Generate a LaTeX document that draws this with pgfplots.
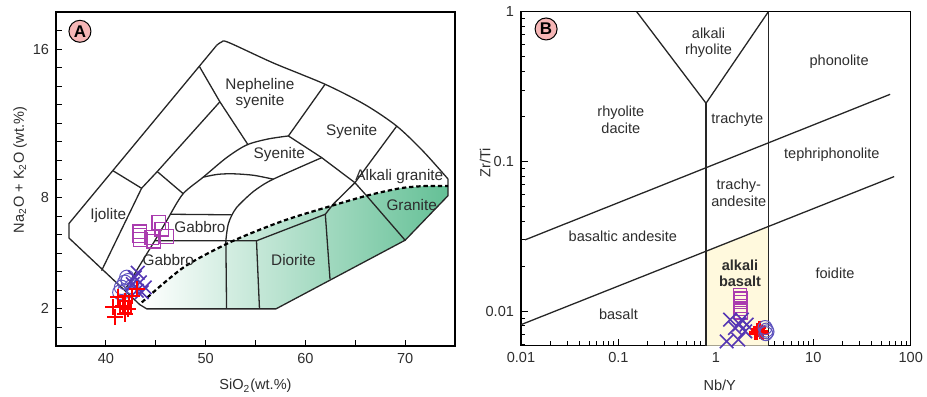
\documentclass[border=0pt]{standalone}
\usepackage{fontspec}
\setmainfont{Liberation Sans}
\usepackage{pgfplots}
\pgfplotsset{compat=1.18}
\definecolor{pur}{RGB}{170,60,175}
\definecolor{blu}{RGB}{85,55,180}
\definecolor{bluc}{RGB}{95,85,190}
\definecolor{grn}{RGB}{100,192,150}
\definecolor{pinkc}{RGB}{246,182,182}
\definecolor{ylw}{RGB}{255,249,221}
\definecolor{txt}{RGB}{45,45,45}
\tikzset{lab/.style={text=txt, align=center, inner sep=0pt},
  bnd/.style={line width=0.65bp, black!85}}
\begin{document}
\begin{tikzpicture}[font=\fontsize{7.3}{8.3}\selectfont]
\useasboundingbox (0,0) rectangle (463.5bp,198.5bp);
\pgfplotsset{
  every axis/.append style={scale only axis, axis line style={line width=0.75bp},
    tick style={line width=0.5bp, black}, tick align=inside, tick pos=left,
    /pgf/number format/assume math mode=true, clip=true,
    ticklabel style={text=txt}, label style={text=txt}}
}
% ---------------- Panel A ----------------
\begin{axis}[at={(28bp,25.5bp)}, anchor=south west, width=199.5bp, height=167bp,
  xmin=35, xmax=75, ymin=0, ymax=18,
  xtick={40,50,60,70}, minor xtick={45,55,65},
  ytick={2,8,16}, minor ytick={1,3,4,5,6,7,9,10,11,12,13,14,15,17},
  major tick length=2.8bp, minor tick length=2.8bp,
  xlabel={SiO\textsubscript{2}(wt.\%)},
  ylabel={Na\textsubscript{2}O + K\textsubscript{2}O (wt.\%)},
  xlabel style={at={(axis description cs:0.5,-0.12)}, anchor=center},
  ylabel style={at={(axis description cs:-0.09,0.527)}, anchor=center}]
% shaded field
\addplot[draw=none, left color=white, right color=grn] coordinates {
 (43.6,2.35) (46.1,3.52) (48.4,4.45) (52.77,5.67) (57.8,6.75) (62.6,7.55) (66.15,8.1) (69.5,8.5) (72,8.62) (74.3,8.62)
 (74.3,8.1) (70,5.7) (57.05,2.0) (44.1,2.0) (43.6,2.35)};
% outer boundary
\addplot[bnd, no marks, smooth] coordinates {(51.1,16.2) (51.6,16.38) (52.3,16.36) (56.8,15.25) (62,14.1) (66,13.0) (69.16,11.85) (71.8,10.5) (74.3,9.0)};
\addplot[bnd, no marks] coordinates {(74.3,9.0) (74.3,8.1) (70,5.7) (57.05,2.0) (44.1,2.0) (43.4,2.23) (36.3,5.82) (36.3,6.6) (51.1,16.2)};
% line A and B
\addplot[bnd, no marks] coordinates {(49.36,15.08) (51.43,13.16) (54.27,10.83)};
\addplot[bnd, no marks] coordinates {(51.43,13.16) (45.15,9.4) (43.58,8.5) (39.57,4.06)};
\addplot[bnd, no marks] coordinates {(40.73,9.44) (43.58,8.5)};
\addplot[bnd, no marks] coordinates {(45.15,9.4) (47.75,8.21)};
% ring outer curve R1
\addplot[bnd, no marks, smooth] coordinates {(58.3,11.32) (56.2,11.15) (54.1,10.83) (52.1,10.15) (49.76,9.1) (47.75,8.21) (46.42,7.05)};
\addplot[bnd, no marks] coordinates {(46.42,7.05) (44.9,5.67) (43.07,4.06) (41.87,2.99)};
\addplot[bnd, no marks] coordinates {(58.3,11.32) (61.97,14.1)};
% line 4 and line 5
\addplot[bnd, no marks] coordinates {(58.3,11.32) (61.64,10.15) (64.97,8.8) (66.15,8.09) (70,5.7)};
\addplot[bnd, no marks] coordinates {(69.16,11.85) (64.97,8.8) (62.8,7.65) (62.0,7.1) (62.47,3.6)};
% arch
\addplot[bnd, no marks, smooth] coordinates {(49.76,9.1) (51.2,9.25) (52.77,9.28) (54.8,9.2) (56.78,8.99)};
% inner curve R2
\addplot[bnd, no marks, smooth] coordinates {(61.64,10.15) (56.78,8.99) (55.1,8.45) (54.1,8.0) (53.1,7.46) (52.6,7.02) (52.27,6.57) (52.1,6.03) (52.03,5.67)};
\addplot[bnd, no marks] coordinates {(52.03,5.67) (52.1,2.0)};
% gabbro box and diorite
\addplot[bnd, no marks] coordinates {(46.42,7.1) (52.6,7.07)};
\addplot[bnd, no marks] coordinates {(44.9,5.67) (55.1,5.67) (62.0,7.1)};
\addplot[bnd, no marks] coordinates {(55.1,5.67) (55.4,2.0)};
% dashed curve
\addplot[line width=1.1bp, black, dash pattern=on 2.2bp off 1.4bp, smooth, no marks] coordinates {
 (43.6,2.35) (46.1,3.52) (48.4,4.45) (52.77,5.67) (57.8,6.75) (62.6,7.55) (66.15,8.1) (69.5,8.5) (72,8.62) (74.3,8.62)};
% labels
\begin{scope}[font=\fontsize{7.7}{8.4}\selectfont]
\node[lab] at (axis cs:55.45,13.61) {Nepheline\\syenite};
\node[lab] at (axis cs:64.64,11.55) {Syenite};
\node[lab] at (axis cs:57.38,10.3) {Syenite};
\node[lab] at (axis cs:69.42,9.11) {Alkali granite};
\node[lab] at (axis cs:70.66,7.6) {Granite};
\node[lab] at (axis cs:40.23,7.05) {Ijolite};
\node[lab] at (axis cs:49.43,6.42) {Gabbro};
\node[lab] at (axis cs:46.25,4.65) {Gabbro};
\node[lab] at (axis cs:58.8,4.63) {Diorite};
\end{scope}
% data
\addplot[only marks, mark=square, mark size=3.4bp, pur, mark options={line width=0.6bp}] coordinates {
 (43.4,6.15) (43.4,5.95) (43.45,5.75) (44.6,5.85) (44.8,5.65) (45.3,6.65) (45.6,6.3) (46.1,5.9)};
\addplot[only marks, mark=o, mark size=3.6bp, bluc, mark options={line width=0.5bp}] coordinates {
 (41.57,3.16) (41.9,3.43) (42.24,3.52) (41.4,2.89) (42.6,3.2) (41.9,2.96) (42.1,3.7)};
\addplot[only marks, mark=x, mark size=4.8bp, blu, mark options={line width=0.8bp}] coordinates {
 (42.9,3.7) (43.4,3.43) (43.9,3.16) (43.1,2.98) (42.7,3.34) (43.6,2.9) (43.2,3.95)};
\addplot[only marks, mark=+, mark size=4bp, red, mark options={line width=1bp}] coordinates {
 (40.73,2.09) (40.9,1.55) (41.9,2.45) (42.24,2.0) (42.58,2.72) (43.08,3.07) (41.23,2.62) (41.74,2.18) (41.9,1.75)};
\addplot[only marks, mark=square, mark size=2.8bp, red, mark options={line width=0.8bp}] coordinates {(41.75,2.4) (41.95,2.1)};
\node[circle, draw=black, line width=0.5bp, fill=pinkc, minimum size=11bp, inner sep=0pt, font=\fontsize{8.5}{9}\selectfont\bfseries] at (axis cs:37.4,16.96) {A};
\end{axis}
% ---------------- Panel B ----------------
\begin{axis}[at={(260.5bp,25.65bp)}, anchor=south west, width=194.85bp, height=167bp,
  xmode=log, ymode=log, xmin=0.01, xmax=100, ymin=0.0059, ymax=1,
  xtick={0.01,0.1,1,10,100}, xticklabels={0.01,0.1,1,10,100},
  ytick={0.01,0.1,1}, yticklabels={0.01,0.1,1},
  minor xtick={0.02,0.03,0.04,0.05,0.06,0.07,0.08,0.09,0.2,0.3,0.4,0.5,0.6,0.7,0.8,0.9,2,3,4,5,6,7,8,9,20,30,40,50,60,70,80,90},
  minor ytick={0.006,0.007,0.008,0.009,0.02,0.03,0.04,0.05,0.06,0.07,0.08,0.09,0.2,0.3,0.4,0.5,0.6,0.7,0.8,0.9},
  major tick length=3.5bp, minor tick length=2.2bp,
  xlabel={Nb/Y}, ylabel={Zr/Ti},
  xlabel style={at={(axis description cs:0.51,-0.118)}, anchor=center},
  ylabel style={at={(axis description cs:-0.092,0.547)}, anchor=center}]
\addplot[draw=none, fill=ylw] coordinates {(0.793,0.0059) (0.793,0.0252) (3.46,0.0368) (3.46,0.0059) (0.793,0.0059)};
\addplot[bnd, no marks] coordinates {(0.154,1) (0.793,0.245) (3.46,1)};
\addplot[bnd, no marks] coordinates {(0.793,0.245) (0.793,0.0059)};
\addplot[bnd, no marks] coordinates {(3.46,1) (3.46,0.0059)};
\addplot[bnd, no marks] coordinates {(0.011,0.030) (61.5,0.281)};
\addplot[bnd, no marks] coordinates {(0.01,0.00815) (67.6,0.0794)};
\node[lab] at (axis cs:0.84,0.62) {alkali\\rhyolite};
\node[lab] at (axis cs:0.106,0.19) {rhyolite\\dacite};
\node[lab] at (axis cs:1.66,0.19) {trachyte};
\node[lab] at (axis cs:18.4,0.46) {phonolite};
\node[lab] at (axis cs:15.5,0.111) {tephriphonolite};
\node[lab] at (axis cs:1.72,0.0616) {trachy-\\andesite};
\node[lab] at (axis cs:0.111,0.0316) {basaltic andesite};
\node[lab, font=\fontsize{7.3}{8.3}\selectfont\bfseries] at (axis cs:1.77,0.018) {alkali\\basalt};
\node[lab] at (axis cs:16.7,0.018) {foidite};
\node[lab] at (axis cs:0.1,0.0095) {basalt};
\addplot[only marks, mark=square, mark size=3.2bp, pur, mark options={line width=0.6bp}] coordinates {
 (1.78,0.0129) (1.82,0.0122) (1.78,0.0115) (1.8,0.0109) (1.76,0.0103) (1.8,0.0098)};
\addplot[only marks, mark=x, mark size=4.8bp, blu, mark options={line width=0.8bp}] coordinates {
 (1.40,0.0088) (1.85,0.0088) (1.57,0.00775) (2.07,0.00815) (1.29,0.0063) (1.70,0.00648) (2.0,0.00736) (1.75,0.0082)};
\addplot[only marks, mark=+, mark size=3.4bp, red, mark options={line width=1.8bp}] coordinates {
 (2.7,0.0075) (2.9,0.0073) (2.8,0.0078) (3.0,0.0071) (2.6,0.0072)};
\addplot[only marks, mark=o, mark size=3.5bp, bluc, mark options={line width=0.5bp}] coordinates {
 (3.2,0.0078) (3.3,0.0075) (3.25,0.0071) (3.35,0.0073)};
\node[circle, draw=black, line width=0.5bp, fill=pinkc, minimum size=11bp, inner sep=0pt, font=\fontsize{8.5}{9}\selectfont\bfseries] at (axis cs:0.0181,0.767) {B};
\end{axis}
\end{tikzpicture}
\end{document}
